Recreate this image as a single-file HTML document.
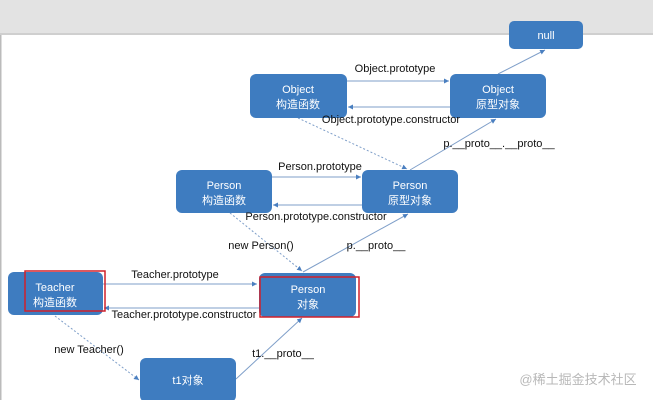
<!DOCTYPE html>
<html><head><meta charset="utf-8"><style>
html,body{margin:0;padding:0;background:#fff;}
svg{display:block;font-family:"Liberation Sans","Noto Sans CJK SC",sans-serif;}
</style></head><body>
<svg width="653" height="400" viewBox="0 0 653 400" xmlns="http://www.w3.org/2000/svg">
<defs>
<marker id="a" markerWidth="6" markerHeight="6" refX="5" refY="3" orient="auto"><path d="M0,0.5 L5,3 L0,5.5z" fill="#4a7fc0"/></marker>
</defs>
<rect x="0" y="0" width="653" height="33" fill="#e3e3e3"/>
<rect x="0" y="33" width="653" height="2" fill="#cfcfcf"/>
<rect x="0" y="35" width="1.5" height="365" fill="#bbb"/>
<g stroke="#7f9fc9" stroke-width="1" fill="none">
<line x1="347" y1="81" x2="449" y2="81" marker-end="url(#a)"/>
<line x1="450" y1="107" x2="348" y2="107" marker-end="url(#a)"/>
<line x1="272" y1="177" x2="361" y2="177" marker-end="url(#a)"/>
<line x1="362" y1="205" x2="273" y2="205" marker-end="url(#a)"/>
<line x1="103" y1="284" x2="257" y2="284" marker-end="url(#a)"/>
<line x1="259" y1="308" x2="104" y2="308" marker-end="url(#a)"/>
<line x1="498" y1="74" x2="545" y2="50" marker-end="url(#a)"/>
<line x1="410" y1="170" x2="496" y2="119" marker-end="url(#a)"/>
<line x1="303" y1="272" x2="408" y2="214" marker-end="url(#a)"/>
<line x1="236" y1="379" x2="302" y2="318" marker-end="url(#a)"/>
<g stroke-dasharray="2,2">
<line x1="298" y1="118" x2="407" y2="169" marker-end="url(#a)"/>
<line x1="230" y1="213" x2="302" y2="271" marker-end="url(#a)"/>
<line x1="55" y1="316" x2="139" y2="380" marker-end="url(#a)"/>
</g>
</g>
<g fill="#3e7cc0">
<rect x="509" y="21" width="74" height="28" rx="5"/>
<rect x="250" y="74" width="97" height="44" rx="6"/>
<rect x="450" y="74" width="96" height="44" rx="6"/>
<rect x="176" y="170" width="96" height="43" rx="6"/>
<rect x="362" y="170" width="96" height="43" rx="6"/>
<rect x="8" y="272" width="95" height="43" rx="6"/>
<rect x="259" y="273" width="97" height="44" rx="6"/>
<rect x="140" y="358" width="96" height="44" rx="6"/>
</g>
<g fill="none" stroke="#d0202a" stroke-width="1.5">
<rect x="25" y="271" width="80" height="40"/>
<rect x="260" y="277" width="99" height="40"/>
</g>
<g fill="#fff" font-size="11" text-anchor="middle">
<text x="546" y="39">null</text>
<text x="298" y="93">Object</text><text x="298" y="108">构造函数</text>
<text x="498" y="93">Object</text><text x="498" y="108">原型对象</text>
<text x="224" y="189">Person</text><text x="224" y="204">构造函数</text>
<text x="410" y="189">Person</text><text x="410" y="204">原型对象</text>
<text x="55" y="291">Teacher</text><text x="55" y="306">构造函数</text>
<text x="308" y="293">Person</text><text x="308" y="308">对象</text>
<text x="188" y="384">t1对象</text>
</g>
<g fill="#111" font-size="11" text-anchor="middle">
<text x="395" y="72">Object.prototype</text>
<text x="391" y="123">Object.prototype.constructor</text>
<text x="499" y="147">p.__proto__.__proto__</text>
<text x="320" y="170">Person.prototype</text>
<text x="316" y="220">Person.prototype.constructor</text>
<text x="261" y="249">new Person()</text>
<text x="376" y="249">p.__proto__</text>
<text x="175" y="278">Teacher.prototype</text>
<text x="184" y="318">Teacher.prototype.constructor</text>
<text x="89" y="353">new Teacher()</text>
<text x="283" y="357">t1.__proto__</text>
</g>
<text x="578" y="384" font-size="13" fill="#b8b8b8" text-anchor="middle">@稀土掘金技术社区</text>
</svg>
</body></html>
